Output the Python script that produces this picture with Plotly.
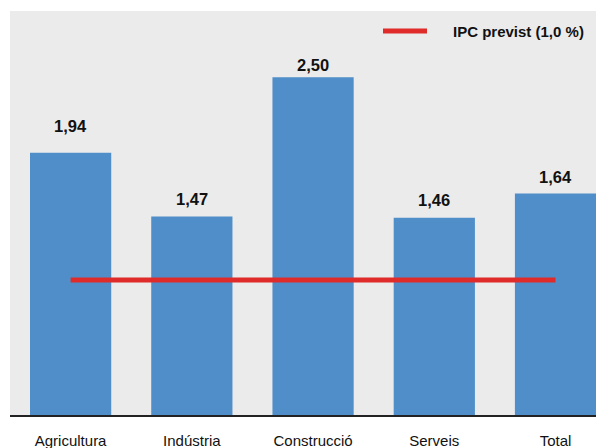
import plotly.graph_objects as go

categories = ["Agricultura", "Indústria", "Construcció", "Serveis", "Total"]
values = [1.94, 1.47, 2.50, 1.46, 1.64]
ipc_previst = [1.0, 1.0, 1.0, 1.0, 1.0]
labels = ["1,94", "1,47", "2,50", "1,46", "1,64"]
legend_name = "IPC previst (1,0 %)"

# label vertical offsets (px) above bar tops, as in the original layout
label_shift = [27, 17, 12, 18, 16]

W, H = 596, 440
ML, MR, MT, MB = 2, 0, 3, 33
pw, ph = W - ML - MR, H - MT - MB

fig = go.Figure()
fig.add_trace(go.Bar(
    x=categories, y=values, marker_color="#4f8ec8", marker_line_width=0,
    showlegend=False, hoverinfo="skip",
))
fig.add_trace(go.Scatter(
    x=categories, y=ipc_previst, mode="lines",
    line=dict(color="#e02b2b", width=5),
    name=legend_name, showlegend=False,
))
for c, v, t, s in zip(categories, values, labels, label_shift):
    fig.add_annotation(x=c, y=v, text="<b>" + t + "</b>", showarrow=False,
                       yshift=s, font=dict(size=16.5, color="#111111",
                                           family="Liberation Sans, Arial"))

# manual legend (line + text)
def px_x(p):
    return (p - ML) / pw

def px_y(p):
    return (H - MB - p) / ph

fig.add_shape(type="line", xref="paper", yref="paper",
              x0=px_x(375), x1=px_x(419), y0=px_y(23), y1=px_y(23),
              line=dict(color="#e02b2b", width=5))
fig.add_annotation(xref="paper", yref="paper", x=px_x(443), y=px_y(23),
                   xanchor="left", yanchor="middle", showarrow=False,
                   text="<b>" + legend_name + "</b>",
                   font=dict(size=15, color="#111111",
                             family="Liberation Sans, Arial"))

fig.update_layout(
    width=W, height=H,
    margin=dict(l=ML, r=MR, t=MT, b=MB, autoexpand=False),
    paper_bgcolor="white", plot_bgcolor="#ebebeb",
    bargap=0.33,
    font=dict(family="Liberation Sans, Arial", size=15, color="#111111"),
    showlegend=False,
    xaxis=dict(range=[-0.5, 4.4], showline=True, linecolor="#222222",
               linewidth=2, ticks="outside", ticklen=11, automargin=False,
               tickcolor="rgba(0,0,0,0)", showgrid=False),
    yaxis=dict(range=[0, 2.99], visible=False, showgrid=False,
               automargin=False),
)
fig.write_html("out.html")
